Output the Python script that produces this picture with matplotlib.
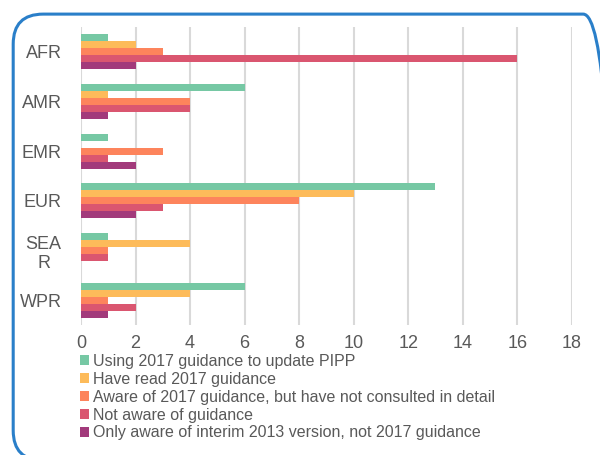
import matplotlib
matplotlib.use("Agg")
import matplotlib.pyplot as plt
import numpy as np
from matplotlib.patches import FancyBboxPatch, Patch

plt.rcParams['font.family'] = ['Liberation Sans', 'DejaVu Sans']

regions = ["AFR", "AMR", "EMR", "EUR", "SEA\nR", "WPR"]
series_names = [
    "Using 2017 guidance to update PIPP",
    "Have read 2017 guidance",
    "Aware of 2017 guidance, but have not consulted in detail",
    "Not aware of guidance",
    "Only aware of interim 2013 version, not 2017 guidance",
]
using_2017 = [1, 6, 1, 13, 1, 6]
have_read = [2, 1, 0, 10, 4, 4]
aware_not_consulted = [3, 4, 3, 8, 1, 1]
not_aware = [16, 4, 1, 3, 1, 2]
only_2013 = [2, 1, 2, 2, 0, 1]
series = [using_2017, have_read, aware_not_consulted, not_aware, only_2013]
colors = ["#76C8A4", "#FDBB5A", "#FD845C", "#DA5670", "#A23A7B"]
xticks = [0, 2, 4, 6, 8, 10, 12, 14, 16, 18]

fig = plt.figure(figsize=(6, 4.55), dpi=100)
ax = fig.add_axes([0.135, 0.2857, 0.818, 0.655])

n = len(series)
bh = 0.14
y = np.arange(len(regions))
for i, (vals, c) in enumerate(zip(series, colors)):
    off = (i - (n - 1) / 2) * bh
    ax.barh(y + off, vals, height=bh, color=c, label=series_names[i], zorder=3)

ax.set_xlim(0, 18)
ax.set_ylim(5.5, -0.5)
ax.set_xticks(xticks)
ax.set_xticklabels([str(t) for t in xticks])
ax.set_yticks(y)
ax.set_yticklabels(regions, multialignment='center')
ax.grid(axis='x', color='#D9D9D9', linewidth=1.5, zorder=0)
ax.grid(axis='y', visible=False)
for s in ax.spines.values():
    s.set_visible(False)
ax.tick_params(axis='both', length=0, labelcolor='#595959', labelsize=13)
ax.tick_params(axis='y', pad=14)
ax.tick_params(axis='x', pad=7)

handles = [Patch(facecolor=c, edgecolor='none') for c in colors]
fig.legend(handles, series_names, loc='upper left', bbox_to_anchor=(0.133, 0.222),
           frameon=False, fontsize=11.5, labelcolor='#595959',
           handlelength=0.6, handleheight=0.6, handletextpad=0.25,
           labelspacing=0.18, borderaxespad=0, borderpad=0)

box = FancyBboxPatch((0.022, -0.012), 1.0, 0.981, transform=fig.transFigure,
                     boxstyle="round,pad=0,rounding_size=0.05",
                     facecolor='none', edgecolor='#2A7FC9', linewidth=2.2,
                     mutation_aspect=600/455)
fig.patches.append(box)

fig.savefig("out.png", dpi=100)
